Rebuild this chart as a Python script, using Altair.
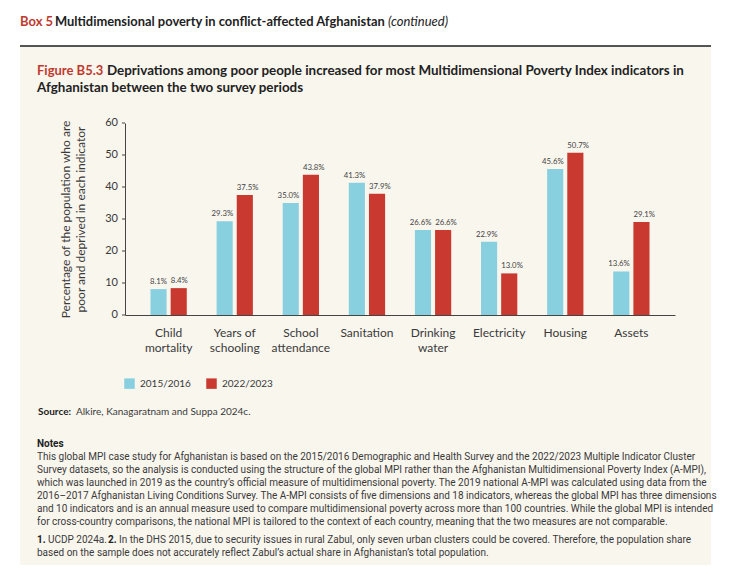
import altair as alt
import pandas as pd

# ---------------- data ----------------
categories = ["Child\nmortality", "Years of\nschooling", "School\nattendance", "Sanitation",
              "Drinking\nwater", "Electricity", "Housing", "Assets"]
periods = ["2015/2016", "2022/2023"]
values_2015_2016 = [8.1, 29.3, 35.0, 41.3, 26.6, 22.9, 45.6, 13.6]
values_2022_2023 = [8.4, 37.5, 43.8, 37.9, 26.6, 13.0, 50.7, 29.1]
y_ticks = [0, 10, 20, 30, 40, 50, 60]

box_title = ["Box 5", "Multidimensional poverty in conflict-affected Afghanistan", "(continued)"]
fig_title = ["Figure B5.3", "Deprivations among poor people increased for most Multidimensional Poverty Index indicators in",
             "Afghanistan between the two survey periods"]
y_title = ["Percentage of the population who are", "poor and deprived in each indicator"]
source = ["Source:", "Alkire, Kanagaratnam and Suppa 2024c."]
notes_lines = [
    "This global MPI case study for Afghanistan is based on the 2015/2016 Demographic and Health Survey and the 2022/2023 Multiple Indicator Cluster",
    "Survey datasets, so the analysis is conducted using the structure of the global MPI rather than the Afghanistan Multidimensional Poverty Index (A-MPI),",
    "which was launched in 2019 as the country\u2019s official measure of multidimensional poverty. The 2019 national A-MPI was calculated using data from the",
    "2016\u20132017 Afghanistan Living Conditions Survey. The A-MPI consists of five dimensions and 18 indicators, whereas the global MPI has three dimensions",
    "and 10 indicators and is an annual measure used to compare multidimensional poverty across more than 100 countries. While the global MPI is intended",
    "for cross-country comparisons, the national MPI is tailored to the context of each country, meaning that the two measures are not comparable.",
]
footnote_parts = ["1.", "UCDP 2024a.", "2.", "In the DHS 2015, due to security issues in rural Zabul, only seven urban clusters could be covered. Therefore, the population share"]
footnote_line2 = "based on the sample does not accurately reflect Zabul\u2019s actual share in Afghanistan\u2019s total population."

rows = []
for c, a, b in zip(categories, values_2015_2016, values_2022_2023):
    rows.append({"cat": c, "period": periods[0], "v": a, "lab": f"{a:.1f}%"})
    rows.append({"cat": c, "period": periods[1], "v": b, "lab": f"{b:.1f}%"})
df = pd.DataFrame(rows)
ticks_df = pd.DataFrame({"v": y_ticks, "lab": [str(t) for t in y_ticks]})

CYAN = "#88d0e0"
RED = "#c9392f"
TXT_RED = "#bf3a2e"
DARK = "#222222"
GRAY = "#3a3a3a"
CHART_FONT = "Lato"
NOTE_FONT = "Roboto"
NOTE_SIZE = 10.0

# plot origin in page coords (125, 123)
OX, OY = 125, 123


def txt(s, x, y, size, color=DARK, weight="normal", font=NOTE_FONT, style="normal", align="left"):
    return alt.Chart(pd.DataFrame({"t": [s]})).mark_text(
        align=align, baseline="middle", fontSize=size, fontWeight=weight, font=font,
        fontStyle=style, color=color
    ).encode(x=alt.value(x - OX), y=alt.value(y - OY), text="t:N")


background = alt.Chart(pd.DataFrame({"a": [0]})).mark_rect(color="#f9f6ee").encode(
    x=alt.value(20 - OX), x2=alt.value(711 - OX), y=alt.value(47 - OY), y2=alt.value(565 - OY)
)
rule = alt.Chart(pd.DataFrame({"a": [0]})).mark_rule(color="#555555", strokeWidth=2).encode(
    x=alt.value(20 - OX), x2=alt.value(711 - OX), y=alt.value(46 - OY)
)

x_axis = alt.Axis(labelAngle=0, labelExpr="split(datum.label, '\\n')", ticks=False, zindex=2,
                  labelFontSize=12, labelColor=GRAY, labelPadding=12, labelLineHeight=15.5,
                  labelFont=CHART_FONT, domainColor="#444444", labelOverlap=False)
y_axis = alt.Axis(grid=False, ticks=False, labels=False, domainColor="#444444", zindex=2,
                  title=y_title, titleFont=CHART_FONT, titleFontSize=12, titleFontWeight="normal",
                  titleColor=GRAY, titlePadding=38, titleLineHeight=15)
x_scale = alt.Scale(paddingInner=0.39, paddingOuter=0.355)
y_scale = alt.Scale(domain=[0, 60], nice=False)

x_enc = alt.X("cat:N", sort=categories, title=None, scale=x_scale, axis=x_axis)
y_enc = alt.Y("v:Q", scale=y_scale, axis=y_axis)
xoff = alt.XOffset("period:N", sort=periods, scale=alt.Scale(paddingInner=0.2, paddingOuter=0.1))

bars = alt.Chart(df).mark_bar().encode(
    x=x_enc,
    xOffset=xoff,
    y=y_enc,
    color=alt.Color("period:N", sort=periods, scale=alt.Scale(domain=periods, range=[CYAN, RED]),
                    legend=alt.Legend(title=None, orient="none", legendX=-1, legendY=255, direction="horizontal",
                                      symbolType="square", symbolSize=110, symbolStrokeWidth=0,
                                      labelFontSize=10, labelFont=CHART_FONT, labelColor=GRAY,
                                      labelOffset=5, columnPadding=15, padding=0)),
)

# y-axis ticks and labels drawn from the tick list on the shared y scale
tick_marks = alt.Chart(ticks_df).mark_rule(color="#444444", strokeWidth=1).encode(
    x=alt.value(-3), x2=alt.value(0), y=y_enc
)
tick_labels = alt.Chart(ticks_df).mark_text(
    align="right", baseline="middle", fontSize=11, font=CHART_FONT, color=GRAY
).encode(x=alt.value(-7), y=y_enc, text="lab:N")

labels_first = alt.Chart(df).transform_filter(alt.datum.period == periods[0]).mark_text(
    baseline="bottom", align="right", dx=8.5, dy=-3, fontSize=7.8, font=CHART_FONT, color="#444444"
).encode(x=x_enc, xOffset=xoff, y=y_enc, text="lab:N")

labels_second = alt.Chart(df).transform_filter(alt.datum.period == periods[1]).mark_text(
    baseline="bottom", align="left", dx=-8, dy=-3, fontSize=7.8, font=CHART_FONT, color="#444444"
).encode(x=x_enc, xOffset=xoff, y=y_enc, text="lab:N")

texts = [
    txt(box_title[0], 20, 22, 13, TXT_RED, "bold", CHART_FONT),
    txt(box_title[1], 55, 22, 12.9, DARK, "bold", CHART_FONT),
    txt(box_title[2], 388, 22, 13, DARK, "normal", CHART_FONT, style="italic"),
    txt(fig_title[0], 37, 71, 13, TXT_RED, "bold", CHART_FONT),
    txt(fig_title[1], 107, 71, 13.4, DARK, "bold", CHART_FONT),
    txt(fig_title[2], 37, 88, 13.4, DARK, "bold", CHART_FONT),
    txt(source[0], 38, 412, 10, DARK, "bold", CHART_FONT),
    txt(source[1], 76, 412, 10, GRAY, "normal", CHART_FONT),
    txt("Notes", 37, 444, 10, DARK, "bold", NOTE_FONT),
]
for i, line in enumerate(notes_lines):
    texts.append(txt(line, 37, 457 + 13 * i, NOTE_SIZE, GRAY))
texts += [
    txt(footnote_parts[0], 37, 540, NOTE_SIZE, DARK, "bold"),
    txt(footnote_parts[1], 48, 540, NOTE_SIZE, GRAY),
    txt(footnote_parts[2], 108, 540, NOTE_SIZE, DARK, "bold"),
    txt(footnote_parts[3], 119, 540, NOTE_SIZE, GRAY),
    txt(footnote_line2, 37, 553, NOTE_SIZE, GRAY),
]

chart = alt.layer(background, rule, bars, tick_marks, tick_labels, labels_first, labels_second, *texts).properties(
    width=550, height=192,
    padding={"left": OX - 8, "top": OY - 8, "right": 713 - (OX - 8) - 550, "bottom": 567 - (OY - 8) - 192},
    autosize=alt.AutoSizeParams(type="none"),
    background="white",
).configure_view(stroke=None)

chart.save("out.html", embed_options={"renderer": "svg", "actions": False})
